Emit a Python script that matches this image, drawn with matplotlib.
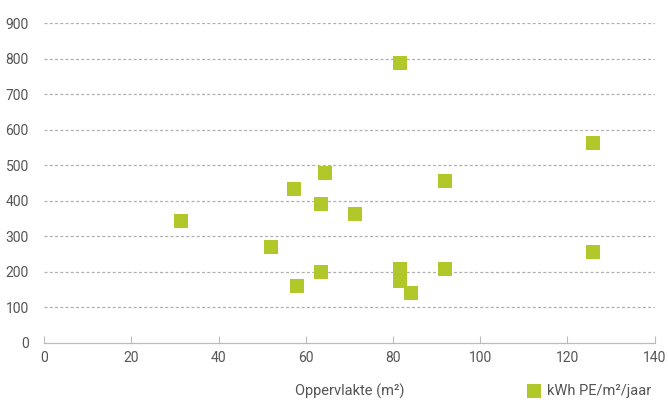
import matplotlib.pyplot as plt

plt.rcParams['font.family'] = ['Roboto', 'DejaVu Sans']

# oppervlakte (m2) en verbruik (kWh PE/m2/jaar)
opp = [81.5, 64.3, 57.4, 63.4, 71.2, 31.3, 52.1, 63.4, 57.9,
       81.5, 81.5, 84.2, 92.0, 92.0, 125.9, 125.9]
kwh = [787, 477, 432, 390, 364, 342, 271, 198, 159,
       209, 173, 139, 457, 209, 564, 257]
xticks = [0, 20, 40, 60, 80, 100, 120, 140]
yticks = [0, 100, 200, 300, 400, 500, 600, 700, 800, 900]

green = '#b2c82a'
grey = '#555555'

fig = plt.figure(figsize=(6.68, 4.0), dpi=100)
ax = fig.add_axes([0.066, 0.143, 0.914, 0.799])

ax.scatter(opp, kwh, marker='s', s=13**2 * 0.52, color=green,
           linewidths=0, zorder=3, label='kWh PE/m²/jaar', clip_on=False)

ax.set_xlim(0, 140)
ax.set_ylim(0, 900)
ax.set_xticks(xticks)
ax.set_yticks(yticks)

for y in yticks[1:]:
    ax.axhline(y, color='#b0b0b0', lw=0.9, ls=(0, (2.4, 1.8)), zorder=1)

for s in ['top', 'right', 'left']:
    ax.spines[s].set_visible(False)
ax.spines['bottom'].set_color('#bbbbbb')
ax.spines['bottom'].set_linewidth(0.9)

ax.tick_params(axis='x', direction='in', length=5, color='#bbbbbb',
               labelcolor=grey, labelsize=10, pad=6)
ax.tick_params(axis='y', length=0, labelcolor=grey, labelsize=10, pad=11)

fig.text(350 / 668, 1 - 391 / 400, 'Oppervlakte (m²)', color=grey,
         fontsize=10.5, ha='center', va='center')

leg = ax.legend(loc='center left', bbox_to_anchor=(527 / 668, 1 - 391 / 400),
                bbox_transform=fig.transFigure, frameon=False,
                fontsize=10.5, handletextpad=0.4, handlelength=1.0,
                borderpad=0, borderaxespad=0)
for t in leg.get_texts():
    t.set_color(grey)

fig.savefig('out.png', dpi=100)
